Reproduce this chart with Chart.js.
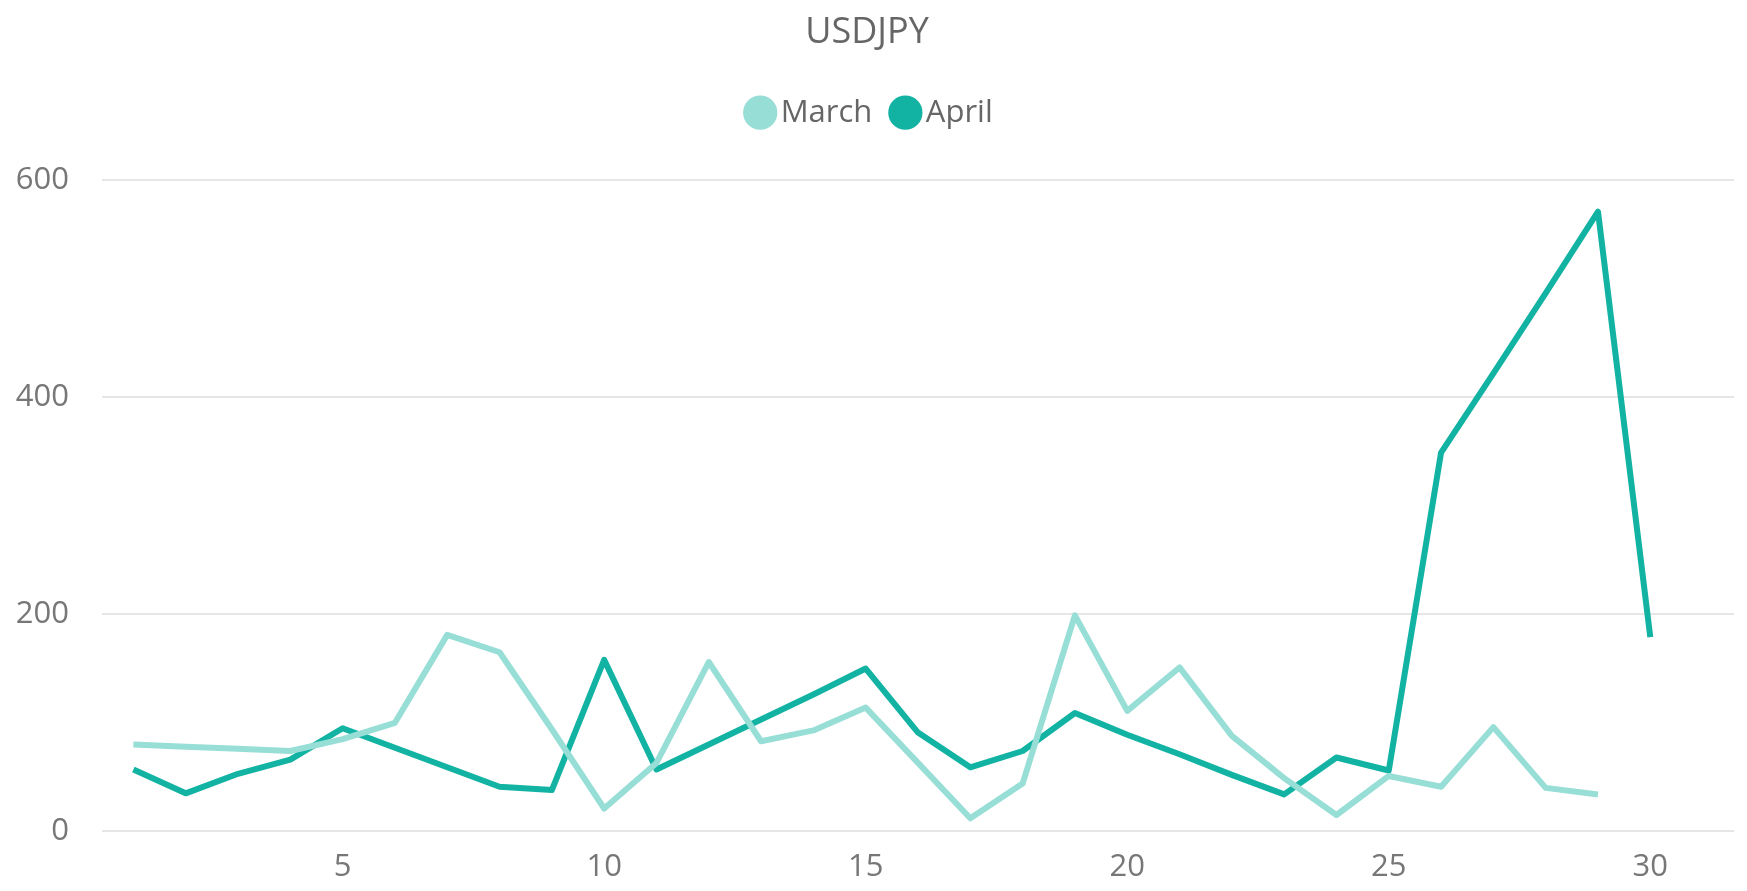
<!DOCTYPE html>
<html>
<head>
<meta charset="utf-8">
<script src="https://cdn.jsdelivr.net/npm/chart.js@4/dist/chart.umd.min.js"></script>
<style>
  html, body { margin: 0; padding: 0; background: #fff; }
  #wrap { width: 1747px; height: 891px; }
</style>
</head>
<body>
<div id="wrap"><canvas id="chart"></canvas></div>
<script>
const TITLE = 'USDJPY';
const seriesNames = ['March', 'April'];
const marchDays = [1, 2, 3, 4, 5, 6, 7, 8, 9, 10, 11, 12, 13, 14, 15, 16, 17, 18, 19, 20, 21, 22, 23, 24, 25, 26, 27, 28, 29];
const marchValues = [80, 78, 76, 74, 85, 100, 181, 165, 94, 21, 63, 156, 83, 93, 114, 63, 12, 44, 199, 111, 151, 88, 49, 15, 51, 41, 96, 40, 34];
const aprilDays = [1, 2, 3, 4, 5, 6, 7, 8, 9, 10, 11, 12, 13, 14, 15, 16, 17, 18, 19, 20, 21, 22, 23, 24, 25, 26, 27, 28, 29, 30];
const aprilValues = [57, 35, 53, 66, 95, 77, 59, 41, 38, 158, 57, 80, 103, 126, 150, 91, 59, 74, 109, 89, 71, 52, 34, 68, 56, 349, 422, 496, 571, 179];
const xTicks = [5, 10, 15, 20, 25, 30];
const yTicks = [0, 200, 400, 600];

const LIGHT = '#97DED6', TEAL = '#12B3A3', TEXT = '#666666', TICK = '#777777', GRID = '#E6E6E6';
const FONT = '"Open Sans", "Noto Sans", sans-serif';

const toPoints = (xs, ys) => xs.map((x, i) => ({ x, y: ys[i] }));

// extra gap under the legend, and nudge it a little to the right
const legendTweak = {
  id: 'legendTweak',
  beforeInit(chart) {
    const lg = chart.legend;
    const fit = lg.fit;
    const draw = lg.draw;
    lg.fit = function () { fit.call(this); this.height += 42; };
    lg.draw = function () {
      this.ctx.save();
      this.ctx.translate(7, 0);
      draw.call(this);
      this.ctx.restore();
    };
  }
};

new Chart(document.getElementById('chart'), {
  type: 'line',
  plugins: [legendTweak],
  data: {
    datasets: [
      { label: seriesNames[0], data: toPoints(marchDays, marchValues), borderColor: LIGHT, backgroundColor: LIGHT, borderWidth: 6, borderJoinStyle: 'round', pointRadius: 0, tension: 0 },
      { label: seriesNames[1], data: toPoints(aprilDays, aprilValues), borderColor: TEAL, backgroundColor: TEAL, borderWidth: 6, borderJoinStyle: 'round', pointRadius: 0, tension: 0 }
    ]
  },
  options: {
    responsive: true,
    maintainAspectRatio: false,
    animation: false,
    layout: { padding: { left: 0, right: 13, top: 0, bottom: 0 } },
    plugins: {
      title: { display: true, text: TITLE, color: TEXT, font: { family: FONT, size: 36, weight: 'normal' }, padding: { top: 11, bottom: 15 } },
      legend: {
        position: 'top',
        labels: { usePointStyle: true, pointStyle: 'circle', boxWidth: 10, boxHeight: 20, color: TEXT, font: { family: FONT, size: 31 }, padding: 28 }
      },
      tooltip: { enabled: false }
    },
    scales: {
      x: {
        type: 'linear', min: 0.4, max: 31.6,
        afterBuildTicks: axis => { axis.ticks = xTicks.map(v => ({ value: v })); },
        afterFit: axis => { axis.height -= 3.5; },
        grid: { display: false },
        border: { display: false },
        ticks: { color: TICK, font: { family: FONT, size: 31 }, padding: 9, maxRotation: 0 }
      },
      y: {
        min: 0, max: 600,
        afterBuildTicks: axis => { axis.ticks = yTicks.map(v => ({ value: v })); },
        afterFit: axis => { axis.width = 102; },
        grid: { color: GRID, lineWidth: 2, drawTicks: false },
        border: { display: false },
        ticks: { color: TICK, font: { family: FONT, size: 31 }, padding: 33 }
      }
    }
  }
});
</script>
</body>
</html>
